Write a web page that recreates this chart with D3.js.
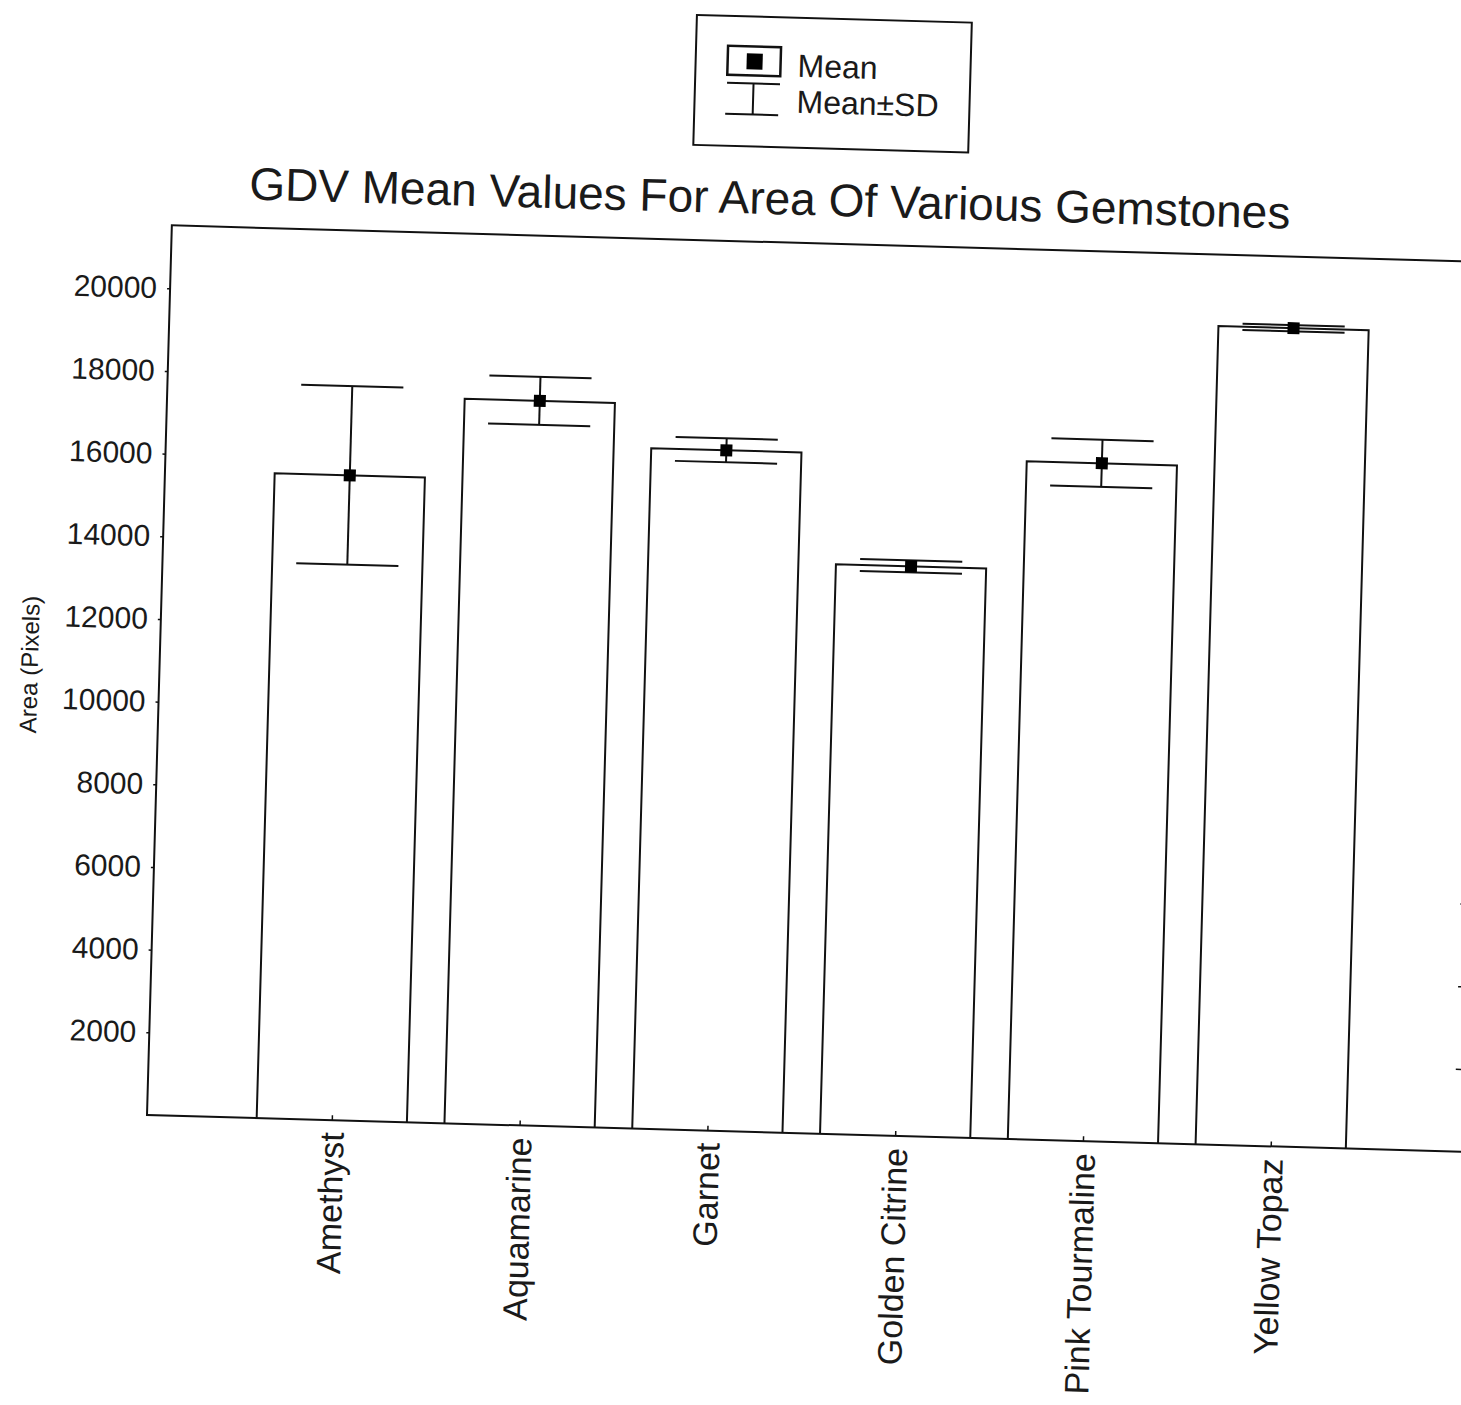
<!DOCTYPE html>
<html>
<head>
<meta charset="utf-8">
<script src="https://cdn.jsdelivr.net/npm/d3@7"></script>
<style>
  body { margin: 0; background: #fff; }
  text { font-family: "Liberation Sans", Arial, sans-serif; fill: #1a1a1a; }
</style>
</head>
<body>
<div id="chart"></div>
<script>
var categories = ["Amethyst", "Aquamarine", "Garnet", "Golden Citrine", "Pink Tourmaline", "Yellow Topaz"];
var means = [15600, 17530, 16460, 13780, 16400, 19795];
var sds = [2160, 580, 290, 145, 570, 75];
var yTicks = [2000, 4000, 6000, 8000, 10000, 12000, 14000, 16000, 18000, 20000];

var width = 1461,
    height = 1405;

// plot frame (before the scan tilt is applied)
var pLeft = 147, pRight = 1468, pTop = 225, pBottom = 1115;

var svg = d3.select("#chart").append("svg")
  .attr("width", width)
  .attr("height", height);

svg.append("rect")
  .attr("width", width)
  .attr("height", height)
  .attr("fill", "#fff");

// the page was scanned slightly crooked, so tilt everything
var g = svg.append("g")
  .attr("transform", `rotate(1.6, ${pLeft}, ${pBottom})`);

var x = d3.scalePoint()
  .domain(categories)
  .range([pLeft - 3, 1459])
  .padding(1);

var y = d3.scaleLinear()
  .domain([0, 21500])
  .range([pBottom, pBottom - 889]);

var bw = x.step() * 0.8,
    capW = bw * 0.68;

var data = categories.map((c, i) => ({ name: c, mean: means[i], sd: sds[i] }));

// frame
g.append("rect")
  .attr("x", pLeft)
  .attr("y", pTop)
  .attr("width", pRight - pLeft)
  .attr("height", pBottom - pTop)
  .attr("fill", "none")
  .attr("stroke", "#111")
  .attr("stroke-width", 2);

// y axis
var yAxis = g.append("g")
  .attr("transform", `translate(${pLeft},0)`)
  .call(d3.axisLeft(y).tickValues(yTicks).tickSize(3).tickPadding(10).tickFormat(d3.format("d")));
yAxis.select(".domain").remove();
yAxis.selectAll("line").attr("stroke", "#111").attr("stroke-width", 1.5);
yAxis.selectAll("text")
  .style("font-size", "30px")
  .attr("fill", "#1a1a1a");

// right side ticks
var rAxis = g.append("g")
  .attr("transform", `translate(${pRight},0)`)
  .call(d3.axisRight(y).tickValues(yTicks).tickSize(-14).tickFormat(""));
rAxis.select(".domain").remove();
rAxis.selectAll("line").attr("stroke", "#111").attr("stroke-width", 1.5);

// x axis
var xAxis = g.append("g")
  .attr("transform", `translate(0,${pBottom})`)
  .call(d3.axisBottom(x).tickSize(-5).tickPadding(12));
xAxis.select(".domain").remove();
xAxis.selectAll("line").attr("stroke", "#111").attr("stroke-width", 1.5);
xAxis.selectAll("text")
  .style("font-size", "34px")
  .attr("fill", "#1a1a1a")
  .attr("text-anchor", "end")
  .attr("transform", "rotate(-90)")
  .attr("x", -12)
  .attr("y", 0)
  .attr("dy", "0.35em");

// bars
g.selectAll(".bar")
  .data(data)
  .enter().append("path")
    .attr("class", "bar")
    .attr("fill", "none")
    .attr("stroke", "#111")
    .attr("stroke-width", 2)
    .attr("d", d => {
      var x0 = x(d.name) - bw / 2, x1 = x(d.name) + bw / 2;
      return `M${x0},${y(0)}V${y(d.mean)}H${x1}V${y(0)}`;
    });

// error bars
var err = g.selectAll(".err")
  .data(data)
  .enter().append("g")
    .attr("class", "err")
    .attr("stroke", "#111")
    .attr("stroke-width", 2);

err.append("line")
  .attr("x1", d => x(d.name))
  .attr("x2", d => x(d.name))
  .attr("y1", d => y(d.mean + d.sd))
  .attr("y2", d => y(d.mean - d.sd));

err.append("line")
  .attr("x1", d => x(d.name) - capW / 2)
  .attr("x2", d => x(d.name) + capW / 2)
  .attr("y1", d => y(d.mean + d.sd))
  .attr("y2", d => y(d.mean + d.sd));

err.append("line")
  .attr("x1", d => x(d.name) - capW / 2)
  .attr("x2", d => x(d.name) + capW / 2)
  .attr("y1", d => y(d.mean - d.sd))
  .attr("y2", d => y(d.mean - d.sd));

g.selectAll(".mean")
  .data(data)
  .enter().append("rect")
    .attr("class", "mean")
    .attr("x", d => x(d.name) - 6)
    .attr("y", d => y(d.mean) - 6)
    .attr("width", 12)
    .attr("height", 12)
    .attr("fill", "#000");

// title
g.append("text")
  .attr("x", 744)
  .attr("y", 197)
  .attr("text-anchor", "middle")
  .style("font-size", "46px")
  .text("GDV Mean Values For Area Of Various Gemstones");

// y label
g.append("text")
  .attr("transform", "translate(17,668) rotate(-90)")
  .attr("text-anchor", "middle")
  .attr("dy", "0.35em")
  .style("font-size", "24px")
  .text("Area (Pixels)");

// legend
var lg = g.append("g");
lg.append("rect")
  .attr("x", 666).attr("y", 0)
  .attr("width", 275).attr("height", 130)
  .attr("fill", "none").attr("stroke", "#111").attr("stroke-width", 2);
lg.append("rect")
  .attr("x", 698).attr("y", 30)
  .attr("width", 53).attr("height", 29)
  .attr("fill", "none").attr("stroke", "#111").attr("stroke-width", 2.5);
lg.append("rect")
  .attr("x", 717).attr("y", 37)
  .attr("width", 16).attr("height", 16)
  .attr("fill", "#000");
lg.append("path")
  .attr("d", "M698,67H751M724.5,67V98M697,98H750")
  .attr("fill", "none").attr("stroke", "#111").attr("stroke-width", 2);
lg.append("text")
  .attr("x", 768).attr("y", 59)
  .style("font-size", "32px")
  .text("Mean");
lg.append("text")
  .attr("x", 768).attr("y", 95)
  .style("font-size", "32px")
  .text("Mean\u00b1SD");
</script>
</body>
</html>
